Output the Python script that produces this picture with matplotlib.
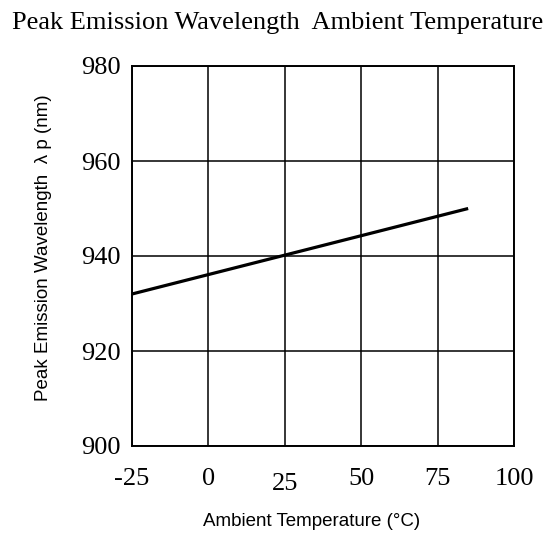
import matplotlib
matplotlib.use("Agg")
import matplotlib.pyplot as plt
import matplotlib.transforms as mtransforms

# --- data ---
temps = [-25, 85]          # Ambient temperature (degC)
wavelength = [932, 950]    # Peak emission wavelength (nm)
x_ticks = [-25, 0, 25, 50, 75, 100]
y_ticks = [900, 920, 940, 960, 980]

SERIF = ['Liberation Serif', 'DejaVu Serif']
NARROW = ['Liberation Sans Narrow', 'Liberation Sans', 'DejaVu Sans']

plt.rcParams['axes.unicode_minus'] = False  # plain hyphen like "-25"

fig = plt.figure(figsize=(5.47, 5.35), dpi=100)
ax = fig.add_axes([132/547, 1 - 446/535, 382/547, 380/535])

ax.plot(temps, wavelength, color='black', lw=2.3, solid_capstyle='butt')

ax.set_xlim(-25, 100)
ax.set_ylim(900, 980)
ax.set_xticks(x_ticks)
ax.set_yticks(y_ticks)
ax.grid(True, color='black', lw=1.1)
for s in ax.spines.values():
    s.set_linewidth(1.4)
ax.tick_params(length=0)
ax.tick_params(axis='x', pad=16)
ax.tick_params(axis='y', pad=8)

for lab in ax.get_xticklabels() + ax.get_yticklabels():
    lab.set_family(SERIF)
    lab.set_fontsize(19)

# the "25" label sits a bit lower in the original
xl = ax.get_xticklabels()
xl[2].set_transform(xl[2].get_transform() +
                    mtransforms.ScaledTranslation(0, -5/100, fig.dpi_scale_trans))

fig.text(278/547, 1 - 23/535, 'Peak Emission Wavelength  Ambient Temperature',
         ha='center', va='center', family=SERIF, fontsize=19)
fig.text(312/547, 1 - 521/535, 'Ambient Temperature (°C)',
         ha='center', va='center', family=NARROW, fontsize=13.5)
fig.text(44/547, 1 - 248/535, 'Peak Emission Wavelength  λ p (nm)',
         ha='center', va='center', rotation=90, family=NARROW, fontsize=13.5)

fig.savefig('out.png', dpi=100)
